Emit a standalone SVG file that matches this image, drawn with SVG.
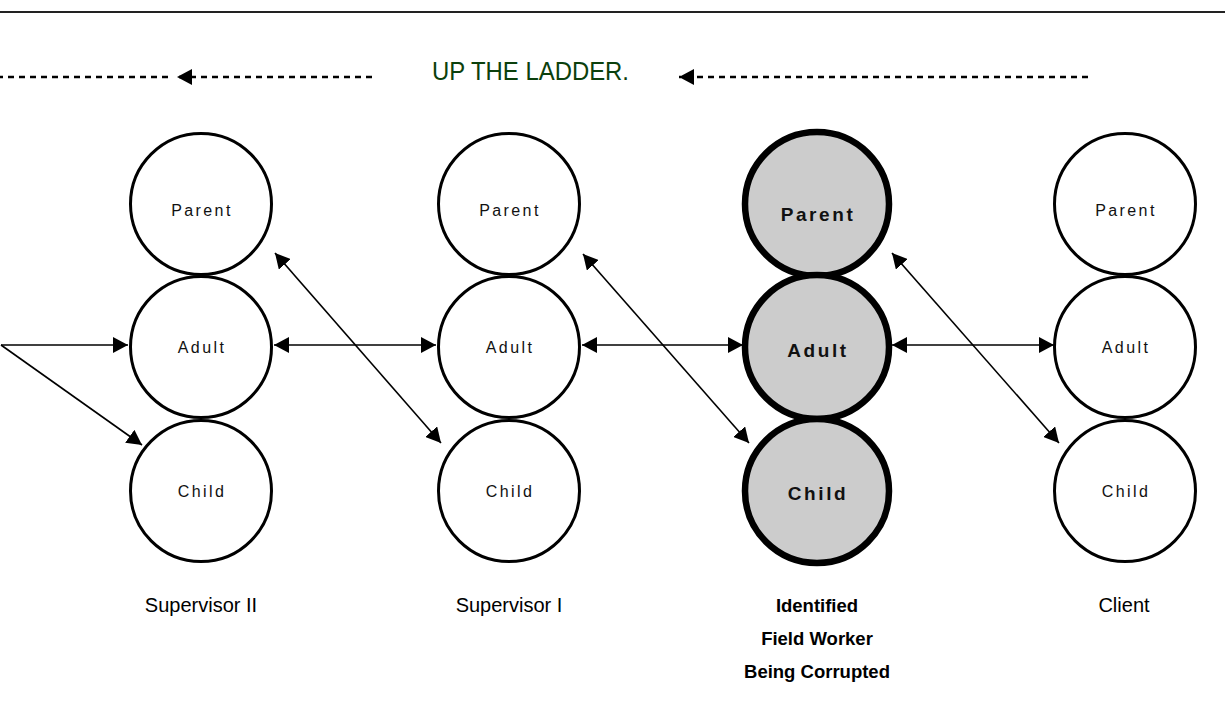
<svg xmlns="http://www.w3.org/2000/svg" width="1225" height="702" viewBox="0 0 1225 702">
<style>
.bg{fill:#ffffff}
.c{fill:#ffffff;stroke:#000;stroke-width:3}
.g{fill:#cccccc;stroke:#000;stroke-width:6.5}
.lbl{font-family:"Liberation Sans",Arial,sans-serif;font-size:16px;letter-spacing:2.4px;fill:#111;text-anchor:middle}
.blbl{font-family:"Liberation Sans",Arial,sans-serif;font-size:19px;font-weight:bold;letter-spacing:2.6px;fill:#111;text-anchor:middle}
.cap{font-family:"Liberation Sans",Arial,sans-serif;font-size:20px;fill:#000;text-anchor:middle}
.bcap{font-family:"Liberation Sans",Arial,sans-serif;font-size:18.5px;font-weight:bold;fill:#000;text-anchor:middle}
.title{font-family:"Liberation Sans",Arial,sans-serif;font-size:26px;fill:#0b400c}
.ln{stroke:#000;stroke-width:1.6;fill:none}
.dash{stroke:#000;stroke-width:2.4;fill:none;stroke-dasharray:6 5}
</style>
<defs>
<marker id="ah" markerUnits="userSpaceOnUse" markerWidth="16" markerHeight="16" viewBox="0 0 16 16" refX="15" refY="8" orient="auto-start-reverse">
<path d="M0,0 L15,8 L0,16 z" fill="#000"/>
</marker>
</defs>
<rect class="bg" x="0" y="0" width="1225" height="702"/>
<line x1="0" y1="12" x2="1225" y2="12" stroke="#222" stroke-width="1.8"/>

<g id="header">
<line class="dash" x1="372" y1="77" x2="177" y2="77" marker-end="url(#ah)"/>
<line class="dash" x1="168" y1="77" x2="0" y2="77"/>
<text class="title" x="432" y="80" textLength="197" lengthAdjust="spacingAndGlyphs">UP THE LADDER.</text>
<line class="dash" x1="1088" y1="77" x2="679" y2="77" marker-end="url(#ah)"/>
</g>

<g id="supervisor2">
<circle class="c" cx="201" cy="204" r="70.5"/>
<circle class="c" cx="201" cy="347" r="70.5"/>
<circle class="c" cx="201" cy="491" r="70.5"/>
<text class="lbl" x="202" y="216">Parent</text>
<text class="lbl" x="202" y="353">Adult</text>
<text class="lbl" x="202" y="497">Child</text>
<text class="cap" x="201" y="612">Supervisor II</text>
</g>

<g id="supervisor1">
<circle class="c" cx="509" cy="204" r="70.5"/>
<circle class="c" cx="509" cy="347" r="70.5"/>
<circle class="c" cx="509" cy="491" r="70.5"/>
<text class="lbl" x="510" y="216">Parent</text>
<text class="lbl" x="510" y="353">Adult</text>
<text class="lbl" x="510" y="497">Child</text>
<text class="cap" x="509" y="612">Supervisor I</text>
</g>

<g id="fieldworker">
<circle class="g" cx="817" cy="204" r="72"/>
<circle class="g" cx="817" cy="347" r="72"/>
<circle class="g" cx="817" cy="491" r="72"/>
<text class="blbl" x="818" y="221">Parent</text>
<text class="blbl" x="818" y="357">Adult</text>
<text class="blbl" x="818" y="500">Child</text>
<text class="bcap" x="817" y="612">Identified</text>
<text class="bcap" x="817" y="645">Field Worker</text>
<text class="bcap" x="817" y="678">Being Corrupted</text>
</g>

<g id="client">
<circle class="c" cx="1125" cy="204" r="70.5"/>
<circle class="c" cx="1125" cy="347" r="70.5"/>
<circle class="c" cx="1125" cy="491" r="70.5"/>
<text class="lbl" x="1126" y="216">Parent</text>
<text class="lbl" x="1126" y="353">Adult</text>
<text class="lbl" x="1126" y="497">Child</text>
<text class="cap" x="1124" y="612">Client</text>
</g>

<g id="connectors">
<line class="ln" x1="1" y1="345" x2="128" y2="345" marker-end="url(#ah)"/>
<line class="ln" x1="1" y1="345" x2="142" y2="445" marker-end="url(#ah)"/>
<line class="ln" x1="274" y1="345" x2="436" y2="345" marker-start="url(#ah)" marker-end="url(#ah)"/>
<line class="ln" x1="275" y1="253" x2="441" y2="443" marker-start="url(#ah)" marker-end="url(#ah)"/>
<line class="ln" x1="582" y1="345" x2="743" y2="345" marker-start="url(#ah)" marker-end="url(#ah)"/>
<line class="ln" x1="583" y1="254" x2="749" y2="443" marker-start="url(#ah)" marker-end="url(#ah)"/>
<line class="ln" x1="892" y1="345" x2="1054" y2="345" marker-start="url(#ah)" marker-end="url(#ah)"/>
<line class="ln" x1="892" y1="253" x2="1059" y2="443" marker-start="url(#ah)" marker-end="url(#ah)"/>
</g>
</svg>
